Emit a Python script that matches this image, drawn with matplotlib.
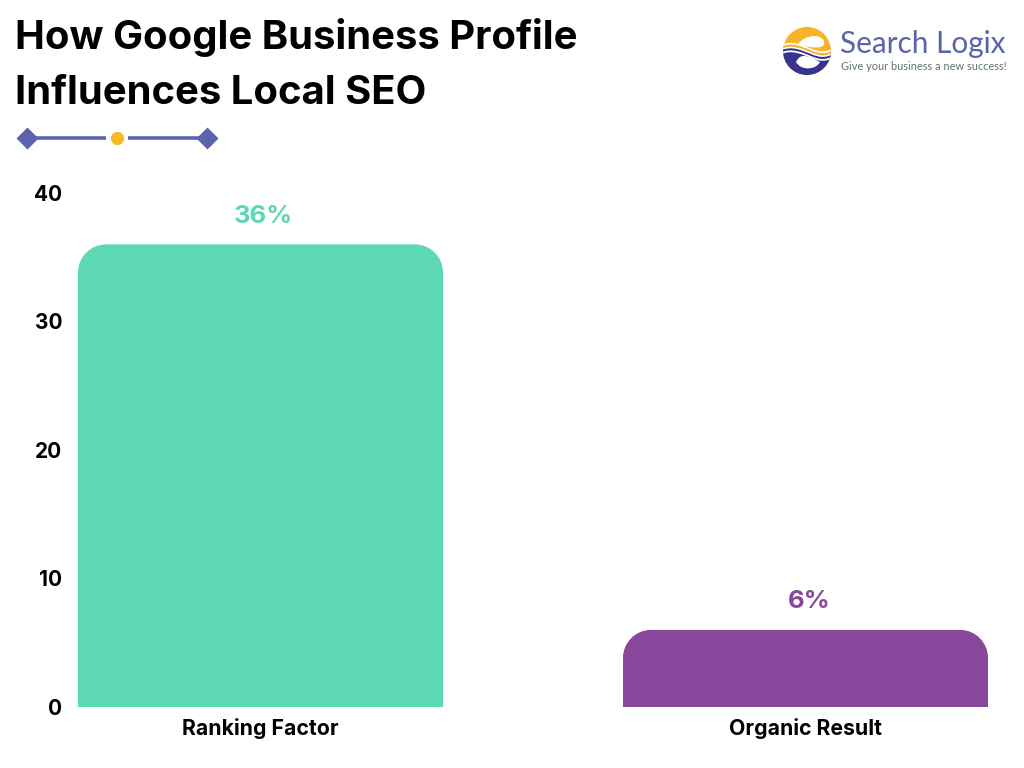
import matplotlib
matplotlib.use("Agg")
import matplotlib.pyplot as plt
from matplotlib.path import Path
from matplotlib.patches import PathPatch, Circle

plt.rcParams['font.family'] = ['Inter', 'DejaVu Sans']

categories = ["Ranking Factor", "Organic Result"]
values = [36, 6]
value_labels = ["36%", "6%"]
bar_colors = ["#5DD8B4", "#88479A"]
y_ticks = [0, 10, 20, 30, 40]

W, H = 1024, 768
BAR_W = 365 / 545
RADIUS_PX = 28


def rounded_top_bar(x, h, width, rx, ry):
    # bar with only the top two corners rounded
    l, r = x - width / 2, x + width / 2
    k = 0.55
    verts = [(l, 0), (l, h - ry),
             (l, h - ry + k * ry), (l + rx - k * rx, h), (l + rx, h),
             (r - rx, h),
             (r - rx + k * rx, h), (r, h - ry + k * ry), (r, h - ry),
             (r, 0), (l, 0)]
    codes = [Path.MOVETO, Path.LINETO,
             Path.CURVE4, Path.CURVE4, Path.CURVE4,
             Path.LINETO,
             Path.CURVE4, Path.CURVE4, Path.CURVE4,
             Path.LINETO, Path.CLOSEPOLY]
    return Path(verts, codes)


fig = plt.figure(figsize=(W / 100, H / 100), dpi=100, facecolor="white")

# chart axes placed on the pixel box of the plot
ax = fig.add_axes([78 / W, 1 - 707 / H, 910 / W, 514 / H])
ax.set_xlim(-BAR_W / 2, 1 + BAR_W / 2)
ax.set_ylim(0, 40)
rx = RADIUS_PX / 545
ry = RADIUS_PX / (514 / 40)
for i, (v, c, lab) in enumerate(zip(values, bar_colors, value_labels)):
    ax.add_patch(PathPatch(rounded_top_bar(i, v, BAR_W, rx, ry), facecolor=c, edgecolor="none"))
    ax.text(i + 0.006, v + 2.2, lab, color=c, fontsize=18.5, fontweight="bold", ha="center", va="center")

for s in ax.spines.values():
    s.set_visible(False)
ax.set_xticks([0, 1])
ax.set_xticklabels(categories, fontsize=15.3, fontweight="bold", color="black")
ax.set_yticks(y_ticks)
ax.set_yticklabels([str(t) for t in y_ticks], fontsize=15, fontweight="bold", color="black")
ax.tick_params(length=0)
ax.tick_params(axis="x", pad=8)
ax.tick_params(axis="y", pad=11.2)

# overlay in pixel coordinates for title, divider and logo
ov = fig.add_axes([0, 0, 1, 1], zorder=5)
ov.set_xlim(0, W)
ov.set_ylim(H, 0)
ov.axis("off")

ov.text(15, 37.5, "How Google Business Profile", fontsize=28.8, fontweight="bold", va="center", color="black")
ov.text(15, 93.5, "Influences Local SEO", fontsize=28.8, fontweight="bold", va="center", color="black")

# divider
ov.plot([27, 106], [138, 138], color="#5B63AC", lw=2.6, solid_capstyle="butt")
ov.plot([128, 207], [138, 138], color="#5B63AC", lw=2.6, solid_capstyle="butt")
ov.plot([27, 207], [138, 138], ls="none", marker="D", ms=11, color="#5B63AC", mec="none")
ov.plot([117], [138], ls="none", marker="o", ms=9.5, color="#F6BA25", mec="none")

# logo mark: orange disc, navy lower part under an S curve, white waves and eyes
disc = Circle((807, 51), 24, facecolor="#F8B32B", edgecolor="none")
ov.add_patch(disc)
wave = [(781, 49), (792, 44), (802, 49), (812, 53), (819, 56), (826, 57), (834, 52)]
wave_codes = [Path.MOVETO] + [Path.CURVE4] * 6
lower = PathPatch(Path(wave + [(834, 80), (781, 80), (781, 49)],
                       wave_codes + [Path.LINETO, Path.LINETO, Path.LINETO]),
                  facecolor="#36348F", edgecolor="none")
ov.add_patch(lower)
lower.set_clip_path(disc)
for dy, col, lw in [(-3.2, "white", 1.3), (-1.2, "#F8B32B", 0.9), (0.6, "white", 1.2), (2.6, "#36348F", 0.9), (4.4, "white", 1.3)]:
    line = PathPatch(Path([(x, y + dy) for x, y in wave], wave_codes), facecolor="none", edgecolor=col, lw=lw)
    ov.add_patch(line)
    line.set_clip_path(disc)
eye_codes = [Path.MOVETO] + [Path.CURVE4] * 6
ov.add_patch(PathPatch(Path([(798, 44), (805, 35), (820, 33), (824, 41), (826, 48), (817, 50), (798, 44)], eye_codes),
                       facecolor="white", edgecolor="none"))
ov.add_patch(PathPatch(Path([(796, 62), (801, 52), (808, 56), (820, 62), (816, 70), (801, 71), (796, 62)], eye_codes),
                       facecolor="white", edgecolor="none"))

ov.text(840, 44, "Search Logix", fontsize=21.4, color="#5B63AC", va="center", family=["Lato", "DejaVu Sans"])
ov.text(841, 67, "Give your business a new success!", fontsize=7.9, color="#5F7278", va="center",
        family=["Lato", "DejaVu Sans"])

fig.savefig("out.png", dpi=100, facecolor="white")
